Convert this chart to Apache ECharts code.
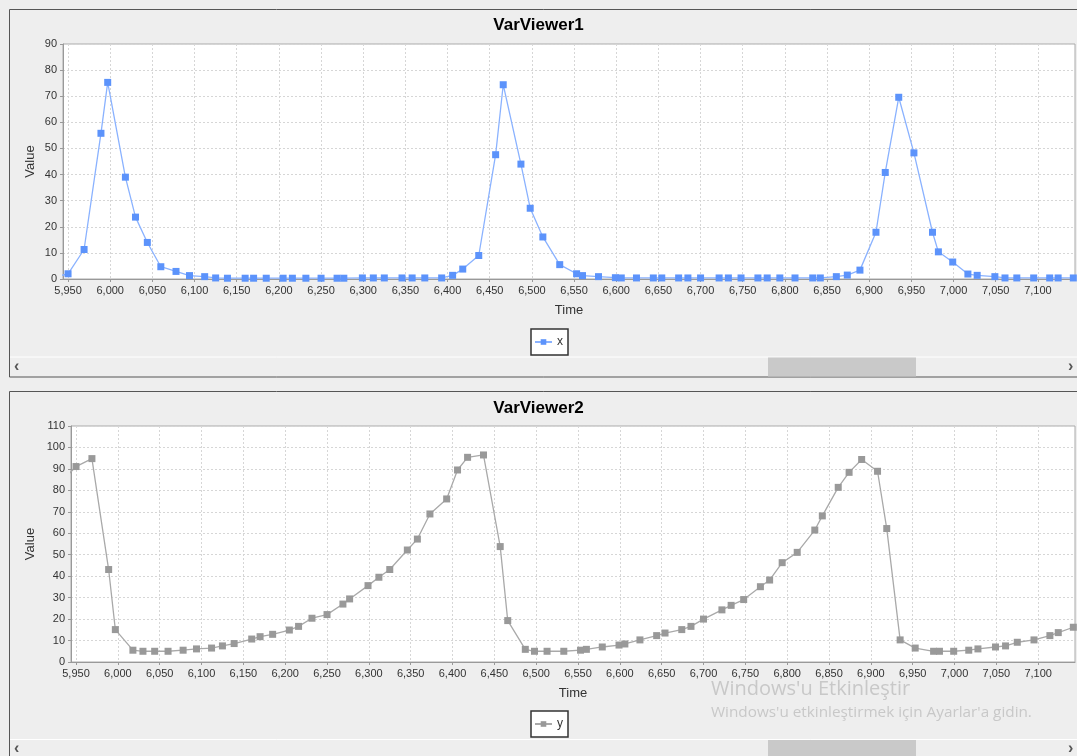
<!DOCTYPE html>
<html>
<head>
<meta charset="utf-8">
<script src="https://cdn.jsdelivr.net/npm/echarts@6/dist/echarts.min.js"></script>
<style>
html,body{margin:0;padding:0;background:#eeeeee;}
#c{width:1077px;height:756px;}
</style>
</head>
<body>
<div id="c"></div>
<script>
// ---- data ----
const times = [5930, 5950, 5969, 5989, 5997, 6018, 6030, 6044, 6060, 6078, 6094, 6112, 6125, 6139, 6160, 6170, 6185, 6205, 6216, 6232, 6250, 6269, 6277, 6299, 6312, 6325, 6346, 6358, 6373, 6393, 6406, 6418, 6437, 6457, 6466, 6487, 6498, 6513, 6533, 6553, 6560, 6579, 6599, 6606, 6624, 6644, 6654, 6674, 6685, 6700, 6722, 6733, 6748, 6768, 6779, 6794, 6812, 6833, 6842, 6861, 6874, 6889, 6908, 6919, 6935, 6953, 6975, 6982, 6999, 7017, 7028, 7049, 7061, 7075, 7095, 7114, 7124, 7142];
const xValues = [0.4, 2, 11.3, 55.8, 75.3, 39, 23.7, 14, 4.7, 2.9, 1.3, 0.9, 0.4, 0.3, 0.3, 0.3, 0.3, 0.3, 0.3, 0.3, 0.3, 0.3, 0.3, 0.4, 0.4, 0.4, 0.4, 0.4, 0.4, 0.4, 1.4, 3.8, 9, 47.6, 74.4, 44, 27.1, 16.1, 5.5, 2.0, 1.3, 0.9, 0.5, 0.4, 0.4, 0.4, 0.4, 0.4, 0.4, 0.4, 0.4, 0.4, 0.4, 0.4, 0.4, 0.4, 0.4, 0.4, 0.4, 0.9, 1.5, 3.4, 17.9, 40.8, 69.6, 48.3, 17.9, 10.4, 6.5, 1.9, 1.4, 0.9, 0.4, 0.4, 0.4, 0.4, 0.4, 0.4];
const yValues = [83, 91.1, 94.8, 43.1, 15.1, 5.5, 5.0, 5.0, 5.0, 5.5, 6.1, 6.5, 7.5, 8.6, 10.7, 11.8, 12.9, 14.9, 16.6, 20.4, 22.1, 27, 29.4, 35.6, 39.5, 43.1, 52.2, 57.3, 69, 76, 89.5, 95.4, 96.5, 53.8, 19.3, 5.9, 5.0, 5.0, 5.0, 5.5, 5.9, 7.0, 7.9, 8.4, 10.3, 12.3, 13.5, 15.1, 16.6, 20, 24.3, 26.4, 29.1, 35.1, 38.2, 46.3, 51.1, 61.5, 68.1, 81.4, 88.4, 94.4, 88.9, 62.2, 10.3, 6.5, 5.0, 5.0, 5.0, 5.5, 6.1, 7.0, 7.5, 9.2, 10.3, 12.3, 13.7, 16.2];
const timeTicks = [5950, 6000, 6050, 6100, 6150, 6200, 6250, 6300, 6350, 6400, 6450, 6500, 6550, 6600, 6650, 6700, 6750, 6800, 6850, 6900, 6950, 7000, 7050, 7100];
const titles = ['VarViewer1', 'VarViewer2'];
const seriesNames = ['x', 'y'];
const axisNames = ['Time', 'Value'];
const watermark = ["Windows'u Etkinleştir", "Windows'u etkinleştirmek için Ayarlar'a gidin."];

const FONT = 'Liberation Sans, Arial, sans-serif';
const fmt = v => Number(v).toLocaleString('en-US');

function xAxisOpt(gi, gap) {
  return {
    type: 'value', gridIndex: gi, min: 5944, max: 7144,
    name: axisNames[0], nameLocation: 'middle', nameGap: gap, nameMoveOverlap: false,
    nameTextStyle: {fontFamily: FONT, fontSize: 13, color: '#333'},
    axisLine: {show: true, lineStyle: {color: '#999'}},
    axisTick: {show: true, length: 3, customValues: timeTicks, lineStyle: {color: '#999'}},
    axisLabel: {customValues: timeTicks, formatter: fmt, fontFamily: FONT, fontSize: 11, color: '#333', margin: 6},
    splitLine: {show: true, lineStyle: {color: '#d6d6d6', type: [2, 2]}}
  };
}
function yAxisOpt(gi, max, gap) {
  return {
    type: 'value', gridIndex: gi, min: 0, max: max, interval: 10,
    name: axisNames[1], nameLocation: 'middle', nameGap: gap, nameMoveOverlap: false,
    nameTextStyle: {fontFamily: FONT, fontSize: 13, color: '#333'},
    axisLine: {show: true, lineStyle: {color: '#999'}},
    axisTick: {show: true, length: 3, lineStyle: {color: '#999'}},
    axisLabel: {fontFamily: FONT, fontSize: 11, color: '#333', margin: 6},
    splitLine: {show: true, lineStyle: {color: '#d6d6d6', type: [2, 2]}}
  };
}
function scrollbar(y, h) {
  return [
    {type: 'line', shape: {x1: 10, y1: y - 0.5, x2: 1077, y2: y - 0.5}, style: {stroke: '#ffffff', lineWidth: 1}, silent: true},
    {type: 'rect', shape: {x: 768, y: y, width: 148, height: h}, style: {fill: '#c9c9c9'}, silent: true},
    {type: 'text', x: 14, y: y + h / 2, style: {text: '‹', font: 'bold 16px ' + FONT, fill: '#555', verticalAlign: 'middle'}, silent: true},
    {type: 'text', x: 1068, y: y + h / 2, style: {text: '›', font: 'bold 16px ' + FONT, fill: '#555', verticalAlign: 'middle'}, silent: true}
  ];
}

const chart = echarts.init(document.getElementById('c'), null, {renderer: 'canvas'});
chart.setOption({
  animation: false,
  backgroundColor: '#eeeeee',
  title: [
    {text: titles[0], left: 'center', top: 12, textStyle: {fontFamily: FONT, fontSize: 17, fontWeight: 'bold', color: '#000'}},
    {text: titles[1], left: 'center', top: 395, textStyle: {fontFamily: FONT, fontSize: 17, fontWeight: 'bold', color: '#000'}}
  ],
  grid: [
    {left: 63, top: 44, width: 1012, height: 235, show: true, backgroundColor: '#fff', borderColor: '#aaa', borderWidth: 1, containLabel: false},
    {left: 71, top: 426, width: 1004, height: 236, show: true, backgroundColor: '#fff', borderColor: '#aaa', borderWidth: 1, containLabel: false}
  ],
  xAxis: [xAxisOpt(0, 25), xAxisOpt(1, 25)],
  yAxis: [yAxisOpt(0, 90, 26), yAxisOpt(1, 110, 34)],
  legend: [
    {data: [seriesNames[0]], left: 531, top: 329, orient: 'horizontal', backgroundColor: '#fff', borderColor: '#333', borderWidth: 1.5, padding: [6, 5, 6, 3], itemWidth: 17, itemHeight: 7, itemGap: 4, textStyle: {fontFamily: FONT, fontSize: 12, color: '#333', lineHeight: 14}},
    {data: [seriesNames[1]], left: 531, top: 711, orient: 'horizontal', backgroundColor: '#fff', borderColor: '#333', borderWidth: 1.5, padding: [6, 5, 6, 3], itemWidth: 17, itemHeight: 7, itemGap: 4, textStyle: {fontFamily: FONT, fontSize: 12, color: '#333', lineHeight: 14}}
  ],
  series: [
    {name: seriesNames[0], type: 'line', xAxisIndex: 0, yAxisIndex: 0, clip: true,
     data: times.map((t, i) => [t, xValues[i]]),
     symbol: 'rect', symbolSize: 7, showAllSymbol: true,
     itemStyle: {color: '#5c93fb'}, lineStyle: {color: '#8ab2ff', width: 1.3}},
    {name: seriesNames[1], type: 'line', xAxisIndex: 1, yAxisIndex: 1, clip: true,
     data: times.map((t, i) => [t, yValues[i]]),
     symbol: 'rect', symbolSize: 7, showAllSymbol: true,
     itemStyle: {color: '#999999'}, lineStyle: {color: '#a9a9a9', width: 1.3}}
  ],
  graphic: [
    {type: 'rect', z: -1, shape: {x: 9.5, y: 9.5, width: 1080, height: 367.5}, style: {fill: 'none', stroke: '#555', lineWidth: 1}, silent: true},
    {type: 'rect', z: -1, shape: {x: 9.5, y: 391.5, width: 1080, height: 380}, style: {fill: 'none', stroke: '#555', lineWidth: 1}, silent: true},
    ...scrollbar(357.5, 19),
    ...scrollbar(740, 17),
    {type: 'text', x: 711, y: 689, z: 100, style: {text: watermark[0], font: '20px "Open Sans", sans-serif', fill: '#c8c8c8', verticalAlign: 'middle'}, silent: true},
    {type: 'text', x: 711, y: 713, z: 100, style: {text: watermark[1], font: '15.3px "Open Sans", sans-serif', fill: '#c8c8c8', verticalAlign: 'middle'}, silent: true}
  ]
});
</script>
</body>
</html>
